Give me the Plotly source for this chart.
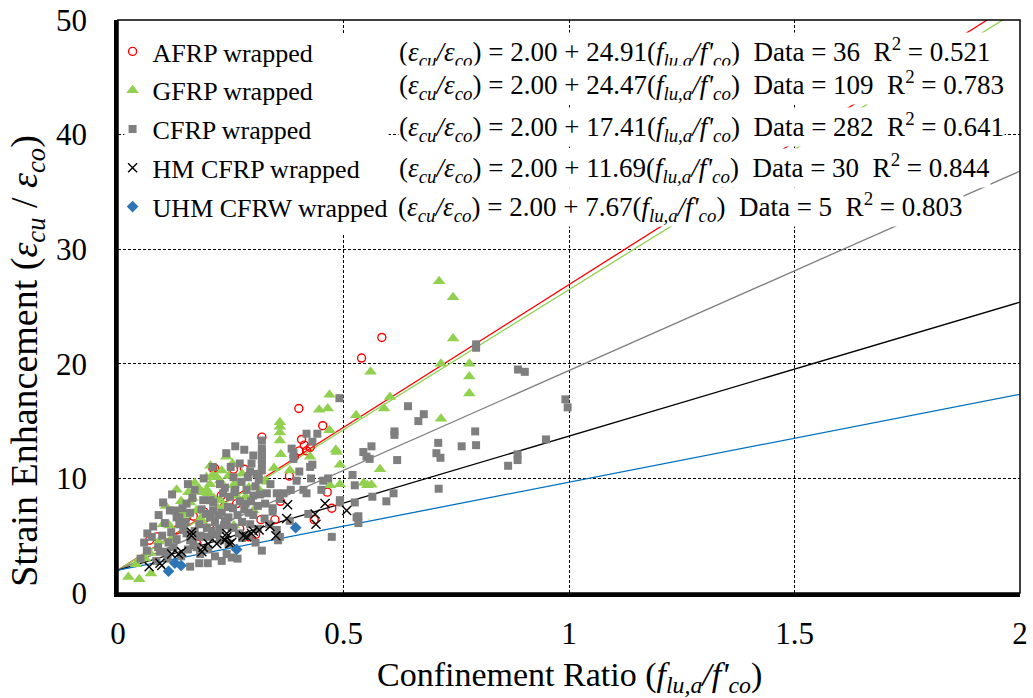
import plotly.graph_objects as go

# ---------------- data ----------------
series_names = ["AFRP wrapped", "GFRP wrapped", "CFRP wrapped", "HM CFRP wrapped", "UHM CFRW wrapped"]

afrp_x = [0.585, 0.540, 0.401, 0.319, 0.454, 0.407, 0.402, 0.418, 0.426, 0.391, 0.210, 0.214,
          0.256, 0.280, 0.464, 0.474, 0.435, 0.317, 0.348, 0.290, 0.270, 0.229, 0.221, 0.086,
          0.152, 0.167, 0.204, 0.263, 0.413, 0.380, 0.130, 0.070, 0.175, 0.190, 0.305, 0.360]
afrp_y = [22.3, 20.5, 16.1, 13.6, 14.6, 13.4, 12.4, 12.4, 12.7, 11.9, 10.9, 10.9,
          10.8, 10.8, 8.8, 7.4, 6.4, 6.4, 6.4, 4.9, 5.6, 8.5, 7.9, 4.9,
          6.6, 6.7, 6.0, 7.8, 12.9, 10.2, 5.5, 4.6, 4.3, 7.1, 5.1, 8.0]

gfrp_x = [0.712, 0.743, 0.743, 0.716, 0.779, 0.779, 0.779, 0.560, 0.603, 0.590, 0.528, 0.716,
          0.581, 0.545, 0.553, 0.562, 0.469, 0.446, 0.465, 0.359, 0.359, 0.359, 0.359, 0.361,
          0.469, 0.483, 0.485, 0.492, 0.492, 0.470, 0.426, 0.346, 0.330, 0.254, 0.230, 0.267,
          0.326, 0.210, 0.219, 0.226, 0.204, 0.197, 0.188, 0.262, 0.156, 0.174, 0.130, 0.106,
          0.100, 0.071, 0.023, 0.047, 0.073, 0.381, 0.257, 0.186, 0.222, 0.180, 0.200, 0.160,
          0.226, 0.183, 0.114, 0.137, 0.256, 0.196, 0.240, 0.245, 0.275, 0.290, 0.150, 0.165,
          0.205, 0.120, 0.090, 0.060, 0.040, 0.300, 0.315, 0.235, 0.212, 0.170, 0.140, 0.283]
gfrp_y = [27.2, 25.8, 22.2, 20.0, 20.0, 18.9, 17.4, 19.3, 17.1, 16.1, 15.5, 15.2,
          10.8, 9.6, 9.4, 9.45, 17.3, 16.0, 16.1, 14.9, 14.5, 14.0, 13.3, 12.1,
          14.2, 12.5, 12.3, 11.2, 9.5, 9.4, 11.9, 10.9, 9.7, 11.3, 10.7, 9.6,
          9.8, 10.3, 10.1, 9.8, 9.5, 9.0, 8.8, 8.5, 8.8, 7.2, 9.0, 7.6,
          6.0, 3.5, 1.4, 1.2, 1.7, 10.7, 5.9, 6.3, 7.4, 9.1, 8.7, 7.9,
          8.1, 6.5, 5.9, 7.1, 9.4, 10.1, 11.9, 10.2, 10.4, 9.2, 6.8, 8.3,
          11.1, 4.8, 4.5, 3.0, 2.5, 7.2, 8.9, 7.6, 8.3, 9.6, 8.0, 8.4]

cfrp_x = [0.794, 0.794, 0.887, 0.902, 0.992, 0.997, 0.643, 0.678, 0.666, 0.613, 0.613, 0.792,
          0.710, 0.794, 0.762, 0.706, 0.715, 0.562, 0.544, 0.551, 0.558, 0.619, 0.949, 0.886,
          0.886, 0.865, 0.520, 0.525, 0.711, 0.611, 0.595, 0.564, 0.525, 0.533, 0.533,
          0.491, 0.418, 0.442, 0.431, 0.385, 0.389, 0.389, 0.402, 0.426, 0.431, 0.428, 0.451,
          0.418, 0.352, 0.383, 0.343, 0.343, 0.359, 0.319, 0.474, 0.492, 0.492, 0.529, 0.466,
          0.411, 0.455, 0.396, 0.367, 0.359, 0.352, 0.355, 0.381, 0.422, 0.330, 0.326,
          0.319, 0.319, 0.319, 0.319, 0.319, 0.319, 0.319, 0.312, 0.312,
          0.296, 0.293, 0.307, 0.274, 0.256, 0.237, 0.211, 0.152, 0.115, 0.126, 0.104, 0.130,
          0.145, 0.152, 0.123, 0.180, 0.199, 0.160, 0.064, 0.089, 0.093, 0.108, 0.075, 0.143,
          0.136, 0.136, 0.189, 0.160, 0.174, 0.189, 0.211, 0.233, 0.226, 0.248, 0.244, 0.204,
          0.197, 0.237, 0.252, 0.245, 0.241, 0.241, 0.256, 0.226, 0.204, 0.226, 0.167, 0.182,
          0.252, 0.293, 0.270, 0.280, 0.265, 0.285, 0.300, 0.310, 0.300, 0.275, 0.290, 0.305,
          0.100, 0.090, 0.078, 0.065, 0.118, 0.130, 0.150, 0.160, 0.170, 0.180, 0.185, 0.195,
          0.205, 0.215, 0.220, 0.230, 0.235, 0.245, 0.255, 0.260, 0.268, 0.275, 0.283, 0.290,
          0.295, 0.305, 0.315, 0.325, 0.335, 0.310, 0.050, 0.085, 0.110, 0.140, 0.155, 0.200,
          0.215, 0.230, 0.265, 0.120, 0.155, 0.170, 0.190, 0.210, 0.240, 0.260, 0.280, 0.300,
          0.250, 0.270, 0.058, 0.098, 0.112, 0.165, 0.178, 0.208, 0.222, 0.258, 0.288, 0.338]
cfrp_y = [21.7, 21.4, 19.5, 19.3, 16.9, 16.2, 16.3, 15.6, 15.0, 14.1, 13.8, 14.1,
          13.1, 12.9, 12.8, 12.2, 11.8, 12.8, 12.3, 11.9, 11.7, 11.6, 13.4, 12.1,
          11.6, 11.1, 10.3, 9.4, 9.1, 8.7, 8.0, 8.4, 7.9, 6.7, 6.1,
          17.0, 13.9, 13.9, 13.2, 12.6, 12.2, 11.7, 10.6, 11.0, 11.2, 10.0, 9.0,
          8.7, 8.7, 9.0, 7.4, 7.1, 4.9, 3.7, 4.9, 8.1, 7.9, 6.6, 10.0,
          9.0, 9.8, 9.8, 8.7, 8.2, 5.5, 4.6, 6.3, 6.9, 8.7, 7.8,
          13.3, 12.6, 12.3, 12.0, 11.6, 11.2, 10.7, 10.3, 9.9,
          11.3, 10.6, 10.4, 9.7, 10.1, 9.2, 7.2, 7.8, 7.2, 7.2, 6.1, 6.6,
          5.5, 5.2, 4.0, 2.6, 2.6, 2.3, 3.7, 4.0, 3.6, 3.6, 4.9, 7.4,
          6.6, 6.0, 4.9, 4.6, 4.0, 8.1, 7.9, 8.7, 9.5, 8.4, 7.5, 6.6,
          5.7, 6.3, 5.7, 4.3, 3.4, 6.0, 5.7, 5.5, 4.9, 4.6, 4.3, 3.4,
          3.1, 6.0, 8.0, 7.3, 6.8, 9.0, 8.5, 7.6, 6.8, 4.8, 5.0, 4.4,
          7.9, 6.8, 5.8, 5.2, 5.3, 4.7, 6.2, 7.0, 5.4, 6.0, 7.3, 6.9,
          8.1, 6.2, 5.1, 7.0, 5.9, 6.6, 7.4, 9.0, 5.2, 6.2, 7.8, 7.0,
          8.0, 9.3, 8.6, 6.5, 6.0, 5.6, 3.0, 2.8, 3.0, 3.2, 3.8, 3.8,
          3.2, 2.8, 3.0, 8.6, 9.5, 9.0, 10.0, 11.0, 12.2, 12.8, 12.5, 12.0,
          11.0, 11.3, 4.4, 5.0, 4.4, 8.3, 5.0, 5.4, 6.8, 8.8, 10.1, 9.5]

hm_x = [0.376, 0.374, 0.459, 0.507, 0.437, 0.439, 0.337, 0.313, 0.300, 0.350, 0.296, 0.278,
        0.285, 0.241, 0.241, 0.237, 0.248, 0.219, 0.200, 0.186, 0.163, 0.163, 0.141, 0.134,
        0.119, 0.093, 0.097, 0.069, 0.189, 0.252]
hm_y = [7.7, 6.5, 7.8, 7.2, 6.9, 6.0, 5.8, 5.5, 5.4, 5.0, 5.2, 5.0,
        4.9, 5.2, 4.9, 4.6, 4.3, 4.3, 4.3, 3.6, 5.3, 5.0, 3.6, 3.4,
        3.4, 2.6, 2.4, 2.3, 4.0, 4.4]

uhm_x = [0.394, 0.263, 0.126, 0.140, 0.112]
uhm_y = [5.7, 3.8, 2.6, 2.4, 1.9]

# regression equations: eps_cu/eps_co = intercept + slope * (f_lu,a / f'co)
intercepts = [2.00, 2.00, 2.00, 2.00, 2.00]
slopes = [24.91, 24.47, 17.41, 11.69, 7.67]
data_counts = [36, 109, 282, 30, 5]
r_squared = ["0.521", "0.783", "0.641", "0.844", "0.803"]
fit_x = [0.0, 2.0]

x_ticks = [0, 0.5, 1, 1.5, 2]
y_ticks = [0, 10, 20, 30, 40, 50]

# ---------------- styling ----------------
FONT = "Liberation Serif"
marker_colors = ["#FF0000", "#92D050", "#7F7F7F", "#000000", "#2E75B6"]
line_colors = ["#FF0000", "#92D050", "#7F7F7F", "#000000", "#0070C0"]
symbols = ["circle-open", "triangle-up", "square", "x-thin-open", "diamond"]
sizes = [8, 11, 8, 9, 9]

xs = [afrp_x, gfrp_x, cfrp_x, hm_x, uhm_x]
ys = [afrp_y, gfrp_y, cfrp_y, hm_y, uhm_y]

fig = go.Figure()

# fit lines (under markers)
for i in range(5):
    fig.add_trace(go.Scatter(
        x=fit_x, y=[intercepts[i] + slopes[i] * v for v in fit_x],
        mode="lines", line=dict(color=line_colors[i], width=1.3),
        showlegend=False, hoverinfo="skip"))

for i in range(5):
    mk = dict(symbol=symbols[i], size=sizes[i], color=marker_colors[i])
    if i in (0, 3):
        mk["line"] = dict(color=marker_colors[i], width=1.4)
    else:
        mk["line"] = dict(width=0)
    fig.add_trace(go.Scatter(
        x=xs[i], y=ys[i], mode="markers", name=series_names[i],
        marker=mk, legendgroup=f"g{i}", cliponaxis=True))

# white box behind the legend (hides grid lines there, like the reference)
fig.add_shape(type="rect", xref="paper", yref="paper", x0=0.007, x1=0.300,
              y0=0.625, y1=0.975, fillcolor="white", line=dict(width=0), layer="above")

# equation annotations
eps_ratio = "(<i>ε</i><sub><i>cu</i></sub><i>/ε</i><sub><i>co</i></sub>)"
f_ratio = "(<i>f</i><sub><i>lu,a</i></sub><i>/f'</i><sub><i>co</i></sub>)"
row_y = [0.944, 0.886, 0.814, 0.742, 0.673]
row_x = [0.310, 0.310, 0.310, 0.310, 0.3095]
for i in range(5):
    txt = (f"{eps_ratio} = {intercepts[i]:.2f} + {slopes[i]:.2f}{f_ratio}"
           f"\u00a0\u00a0Data = {data_counts[i]}\u00a0\u00a0R<sup>2</sup> = {r_squared[i]}")
    fig.add_annotation(xref="paper", yref="paper", x=row_x[i], y=row_y[i],
                       xanchor="left", yanchor="middle", text=txt, showarrow=False,
                       bgcolor="white", borderpad=0,
                       font=dict(family=FONT, size=27, color="black"))

# axis titles
fig.add_annotation(xref="paper", yref="paper", x=0.5, y=-0.146, xanchor="center",
                   yanchor="middle", showarrow=False,
                   text="Confinement Ratio " + f_ratio,
                   font=dict(family=FONT, size=34, color="black"))
fig.add_annotation(xref="paper", yref="paper", x=-0.101, y=0.405, xanchor="center",
                   yanchor="middle", showarrow=False, textangle=-90,
                   text="Strain Enhancement (<i>ε</i><sub><i>cu</i></sub> / <i>ε</i><sub><i>co</i></sub>)",
                   font=dict(family=FONT, size=38, color="black"))

# thin box around plot area
fig.add_shape(type="rect", xref="paper", yref="paper", x0=0, y0=0, x1=1, y1=1,
              line=dict(color="black", width=1.5), layer="above")

axis_common = dict(
    showline=True, linecolor="black", linewidth=3.5, mirror=False, automargin=False,
    showgrid=True, gridcolor="black", gridwidth=1, griddash="3px,2px",
    zeroline=False, ticks="", tickfont=dict(family=FONT, size=31, color="black"),
)
fig.update_xaxes(range=[0, 2], tickvals=x_ticks, ticktext=[f"{v:g}" for v in x_ticks],
                 ticklabelstandoff=10, **axis_common)
fig.update_yaxes(range=[0, 50], tickvals=y_ticks, ticktext=[str(v) for v in y_ticks],
                 ticklabelstandoff=21, **axis_common)

fig.update_layout(
    width=1033, height=698,
    margin=dict(l=118, r=13, t=20, b=105),
    plot_bgcolor="white", paper_bgcolor="white",
    showlegend=True,
    legend=dict(x=-0.006, y=0.986, xanchor="left", yanchor="top",
                bgcolor="rgba(0,0,0,0)", borderwidth=0,
                traceorder="grouped", tracegroupgap=2,
                font=dict(family=FONT, size=26, color="black"), itemwidth=30),
)

fig.write_html("out.html", config={"displayModeBar": False},
               post_script="document.body.style.margin='0';")
